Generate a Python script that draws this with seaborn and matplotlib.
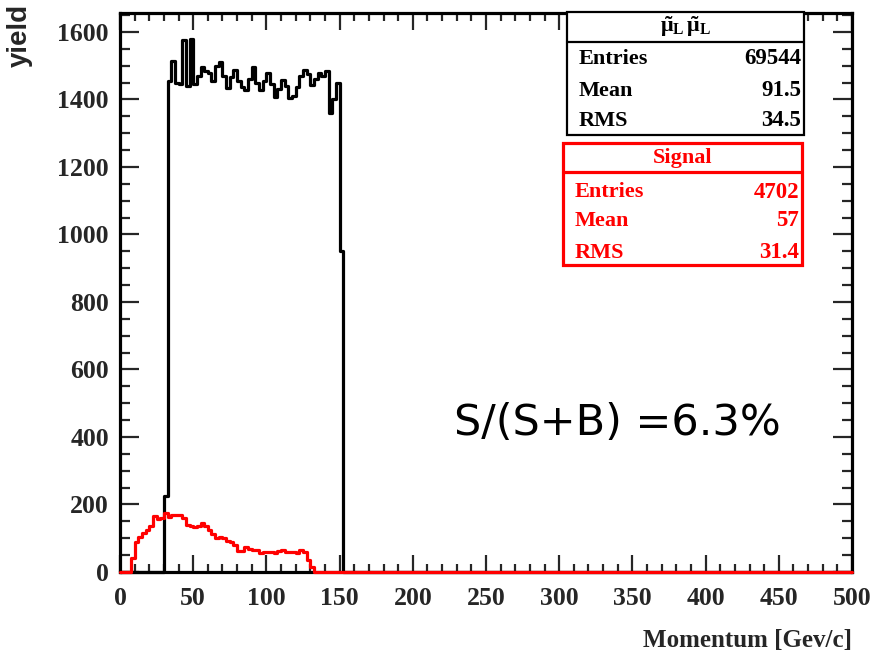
import numpy as np
import pandas as pd
import matplotlib
matplotlib.use("Agg")
import matplotlib.pyplot as plt
from matplotlib.patches import Rectangle
from matplotlib.lines import Line2D
from matplotlib.ticker import MultipleLocator
import seaborn as sns

# ---- histogram contents (2.5 GeV/c bins over 0-500) ----
bin_width = 2.5
p_min, p_max = 0.0, 500.0

background_start = 30.0
background_counts = [
    225, 1455, 1515, 1450, 1445, 1575, 1440, 1580, 1445, 1470,
    1497, 1483, 1478, 1455, 1500, 1512, 1470, 1434, 1465, 1487,
    1455, 1438, 1428, 1460, 1497, 1450, 1428, 1455, 1478, 1445,
    1408, 1430, 1458, 1440, 1404, 1410, 1438, 1470, 1487, 1475,
    1443, 1460, 1478, 1470, 1483, 1360, 1400, 1450, 950,
]

signal_start = 7.5
signal_counts = [
    40, 88, 105, 115, 125, 135, 165, 158, 160, 175,
    162, 168, 170, 168, 160, 140, 135, 133, 135, 145,
    135, 125, 112, 100, 104, 102, 92, 88, 80, 63,
    62, 75, 68, 65, 66, 55, 60, 58, 60, 56,
    62, 65, 60, 59, 60, 56, 65, 60, 36, 15,
]

# statistics boxes
bg_title = r"$\tilde{\mu}_{L}\,\tilde{\mu}_{L}$"
bg_stats = [("Entries", "69544"), ("Mean", "91.5"), ("RMS", "34.5")]
sig_title = "Signal"
sig_stats = [("Entries", "4702"), ("Mean", "57"), ("RMS", "31.4")]
ratio_text = "S/(S+B) =6.3%"

# ---- binning ----
edges = np.arange(p_min, p_max + bin_width / 2, bin_width)
centers = edges[:-1] + bin_width / 2


def full_weights(start, counts):
    w = np.zeros(len(centers))
    i0 = int(round((start - p_min) / bin_width))
    w[i0:i0 + len(counts)] = counts
    return w


hist_df = pd.DataFrame({
    "momentum": centers,
    "background": full_weights(background_start, background_counts),
    "signal": full_weights(signal_start, signal_counts),
})

sns.set_style("white")
plt.rcParams["font.family"] = ["Liberation Serif", "DejaVu Serif"]
plt.rcParams["mathtext.fontset"] = "custom"
plt.rcParams["mathtext.rm"] = "Liberation Serif:bold"
plt.rcParams["mathtext.it"] = "Liberation Serif:bold"

W, H = 884, 660
fig = plt.figure(figsize=(W / 100, H / 100), dpi=100)
L, R, T, B = 120, 852, 13, 572
ax = fig.add_axes([L / W, 1 - B / H, (R - L) / W, (B - T) / H])

bin_list = [float(e) for e in edges]
sns.histplot(data=hist_df, x="momentum", weights="background", bins=bin_list,
             element="step", fill=False, color="black", linewidth=2.3,
             zorder=3, clip_on=False, ax=ax)
sns.histplot(data=hist_df, x="momentum", weights="signal", bins=bin_list,
             element="step", fill=False, color="#ff0000", linewidth=2.3,
             zorder=3.1, clip_on=False, ax=ax)

ax.set_xlim(p_min, p_max)
ax.set_ylim(0, 1656)
ax.set_xlabel("")
ax.set_ylabel("")

for s in ax.spines.values():
    s.set_linewidth(2.3)
    s.set_color("black")

ax.xaxis.set_major_locator(MultipleLocator(50))
ax.xaxis.set_minor_locator(MultipleLocator(10))
ax.yaxis.set_major_locator(MultipleLocator(200))
ax.yaxis.set_minor_locator(MultipleLocator(50))

ax.tick_params(axis="x", which="major", direction="in", length=12, width=1.6,
               top=True, bottom=True, pad=11, labelsize=18.5)
ax.tick_params(axis="x", which="minor", direction="in", length=6, width=1.6,
               top=True, bottom=True)
ax.tick_params(axis="y", which="major", direction="in", length=14, width=1.6,
               left=True, right=True, pad=8, labelsize=18.5)
ax.tick_params(axis="y", which="minor", direction="in", length=7.5, width=1.6,
               left=True, right=True)
for lab in ax.get_xticklabels() + ax.get_yticklabels():
    lab.set_fontweight("bold")

# axis titles
fig.text(R / W, 1 - 640 / H, "Momentum [Gev/c]", ha="right", va="center",
         fontsize=18, fontweight="bold")
fig.text(20 / W, 1 - 4 / H, "yield", rotation=90, ha="center", va="top",
         fontsize=20, fontweight="bold", family=["Liberation Sans", "DejaVu Sans"])


def fx(px):
    return px / W


def fy(py):
    return 1 - py / H


def stats_box(left, right, top, sep, bottom, title, rows, row_y, color, lw):
    fig.add_artist(Rectangle((fx(left), fy(bottom)), fx(right) - fx(left),
                             fy(top) - fy(bottom), transform=fig.transFigure,
                             facecolor="white", edgecolor=color, linewidth=lw,
                             zorder=5))
    fig.add_artist(Line2D([fx(left), fx(right)], [fy(sep), fy(sep)],
                          transform=fig.transFigure, color=color, linewidth=lw,
                          zorder=6))
    fig.text(fx((left + right) / 2), fy((top + sep) / 2), title, ha="center",
             va="center", fontsize=16, fontweight="bold", color=color, zorder=7)
    for (name, val), y in zip(rows, row_y):
        fig.text(fx(left + 12), fy(y), name, ha="left", va="center",
                 fontsize=16, fontweight="bold", color=color, zorder=7)
        fig.text(fx(right - 3), fy(y), val, ha="right", va="center",
                 fontsize=16.5, fontweight="bold", color=color, zorder=7)


stats_box(567, 804, 12, 42, 135, bg_title, bg_stats, [59, 91, 121], "black", 1.6)
stats_box(563, 802, 143, 172, 265, sig_title, sig_stats, [192, 221, 253], "#ff0000", 2.3)

ax.text(0.68, 0.266, ratio_text, transform=ax.transAxes, ha="center",
        va="center", fontsize=31, family=["DejaVu Sans"], color="black")

fig.savefig("out.png", dpi=100)
